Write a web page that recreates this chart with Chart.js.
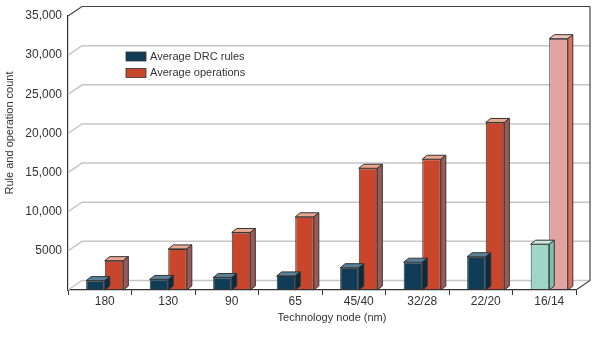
<!DOCTYPE html>
<html>
<head>
<meta charset="utf-8">
<script src="https://cdn.jsdelivr.net/npm/chart.js@4.4.1/dist/chart.umd.min.js"></script>
<style>
html,body{margin:0;padding:0;background:#fff;}
#wrap{width:595px;height:338px;position:relative;}
</style>
</head>
<body>
<div id="wrap"><canvas id="c" width="595" height="338"></canvas></div>
<script>
const categories = ['180', '130', '90', '65', '45/40', '32/28', '22/20', '16/14'];
const drcRules = [1200, 1350, 1600, 1800, 2850, 3550, 4250, 5850];
const operations = [3750, 5250, 7350, 9350, 15550, 16700, 21400, 32100];
const yTickLabels = ['', '5000', '10,000', '15,000', '20,000', '25,000', '30,000', '35,000'];
const seriesNames = ['Average DRC rules', 'Average operations'];
const xTitle = 'Technology node (nm)';
const yTitle = 'Rule and operation count';

const n = categories.length;
function styleArr(normal, last) { return categories.map((c, i) => i === n - 1 ? last : normal); }
const faceColors = [
  { front: styleArr('#113c58', '#9fd6c5'), top: styleArr('#5b8197', '#c9eadf'), side: styleArr('#0b2a3e', '#7fbfae') },
  { front: styleArr('#c8462b', '#e2a4a1'), top: styleArr('#e9a88f', '#f0c3b8'), side: styleArr('#9b5a57', '#d8705e') }
];

const WALL_DX = 14, WALL_DY = 9.5;   // depth of the back wall
const BAR_DX = 5, BAR_DY = 4;        // depth of each bar
const BAR_SHIFT = 5;                 // bars sit in the middle of the depth
const FONT = '"Liberation Sans", Arial, sans-serif';
const INK = '#333';

const threeD = {
  id: 'threeD',
  beforeDatasetsDraw(chart) {
    const ctx = chart.ctx, a = chart.chartArea, y = chart.scales.y;
    ctx.save();
    // back wall gridlines and left-wall diagonals
    const ticks = y.ticks;
    ticks.forEach((t, i) => {
      const py = y.getPixelForValue(t.value);
      const last = i === ticks.length - 1;
      ctx.strokeStyle = last ? '#444' : '#c6c6c6';
      ctx.lineWidth = last ? 1.2 : 1.5;
      ctx.beginPath();
      ctx.moveTo(a.left, py);
      ctx.lineTo(a.left + WALL_DX, py - WALL_DY);
      ctx.lineTo(a.right + WALL_DX, py - WALL_DY);
      ctx.stroke();
    });
    // right wall edge and floor edge
    const y0 = y.getPixelForValue(0), yT = y.getPixelForValue(35000);
    ctx.strokeStyle = '#444';
    ctx.lineWidth = 1.2;
    ctx.beginPath();
    ctx.moveTo(a.right + WALL_DX, yT - WALL_DY);
    ctx.lineTo(a.right + WALL_DX, y0 - WALL_DY);
    ctx.lineTo(a.right, y0);
    ctx.stroke();
    ctx.restore();
    // shift bars into the middle of the depth
    ctx.save();
    ctx.translate(BAR_SHIFT, 0);
  },
  afterDatasetDraw(chart, args) {
    const ctx = chart.ctx;
    const di = args.index;
    const cols = faceColors[di];
    args.meta.data.forEach((el, i) => {
      const p = el.getProps(['x', 'y', 'width', 'base'], true);
      const l = p.x - p.width / 2, r = p.x + p.width / 2, t = p.y, b = p.base;
      ctx.lineWidth = 1;
      ctx.strokeStyle = INK;
      // top face
      ctx.fillStyle = cols.top[i];
      ctx.beginPath();
      ctx.moveTo(l, t); ctx.lineTo(l + BAR_DX, t - BAR_DY); ctx.lineTo(r + BAR_DX, t - BAR_DY); ctx.lineTo(r, t); ctx.closePath();
      ctx.fill(); ctx.stroke();
      // side face
      ctx.fillStyle = cols.side[i];
      ctx.beginPath();
      ctx.moveTo(r, t); ctx.lineTo(r + BAR_DX, t - BAR_DY); ctx.lineTo(r + BAR_DX, b - BAR_DY); ctx.lineTo(r, b); ctx.closePath();
      ctx.fill(); ctx.stroke();
    });
  },
  afterDatasetsDraw(chart) {
    chart.ctx.restore();
  },
  afterDraw(chart) {
    const ctx = chart.ctx;
    ctx.save();
    ctx.fillStyle = INK;
    ctx.font = '11px ' + FONT;
    // axis titles
    ctx.textAlign = 'center';
    ctx.textBaseline = 'middle';
    ctx.fillText(xTitle, 332, 318);
    ctx.save();
    ctx.translate(10, 133);
    ctx.rotate(-Math.PI / 2);
    ctx.fillText(yTitle, 0, 0);
    ctx.restore();
    // legend
    chart.data.datasets.forEach((ds, i) => {
      const sy = 52 + i * 16.5;
      ctx.fillStyle = faceColors[i].front[0];
      ctx.fillRect(126, sy, 20, 9);
      ctx.strokeStyle = INK;
      ctx.lineWidth = 0.8;
      ctx.strokeRect(126, sy, 20, 9);
      ctx.fillStyle = INK;
      ctx.textAlign = 'left';
      ctx.fillText(ds.label, 150, sy + 4.5);
    });
    ctx.restore();
  }
};

new Chart(document.getElementById('c'), {
  type: 'bar',
  data: {
    labels: categories,
    datasets: [
      { label: seriesNames[0], data: drcRules, backgroundColor: faceColors[0].front, borderColor: INK, borderWidth: 1, borderSkipped: false },
      { label: seriesNames[1], data: operations, backgroundColor: faceColors[1].front, borderColor: INK, borderWidth: 1, borderSkipped: false }
    ]
  },
  options: {
    responsive: false,
    animation: false,
    devicePixelRatio: 1,
    layout: { padding: { top: 16, right: 19, left: 0, bottom: 0 } },
    plugins: { legend: { display: false }, tooltip: { enabled: false } },
    datasets: { bar: { categoryPercentage: 0.585, barPercentage: 1.0 } },
    scales: {
      x: {
        afterFit(s) { s.height = 48; },
        grid: { display: true, drawOnChartArea: false, drawTicks: true, tickLength: 5, color: INK, lineWidth: 1, offset: true },
        border: { display: true, color: INK, width: 1.2 },
        ticks: { color: INK, font: { family: FONT, size: 12 }, padding: -1, labelOffset: BAR_SHIFT, maxRotation: 0, autoSkip: false }
      },
      y: {
        min: 0, max: 35000,
        afterFit(s) { s.width = 68; },
        grid: { display: false, drawTicks: false },
        border: { display: true, color: INK, width: 1.2 },
        ticks: { stepSize: 5000, color: INK, font: { family: FONT, size: 12 }, padding: 6,
          callback: (v, i) => yTickLabels[i] }
      }
    }
  },
  plugins: [threeD]
});
</script>
</body>
</html>
